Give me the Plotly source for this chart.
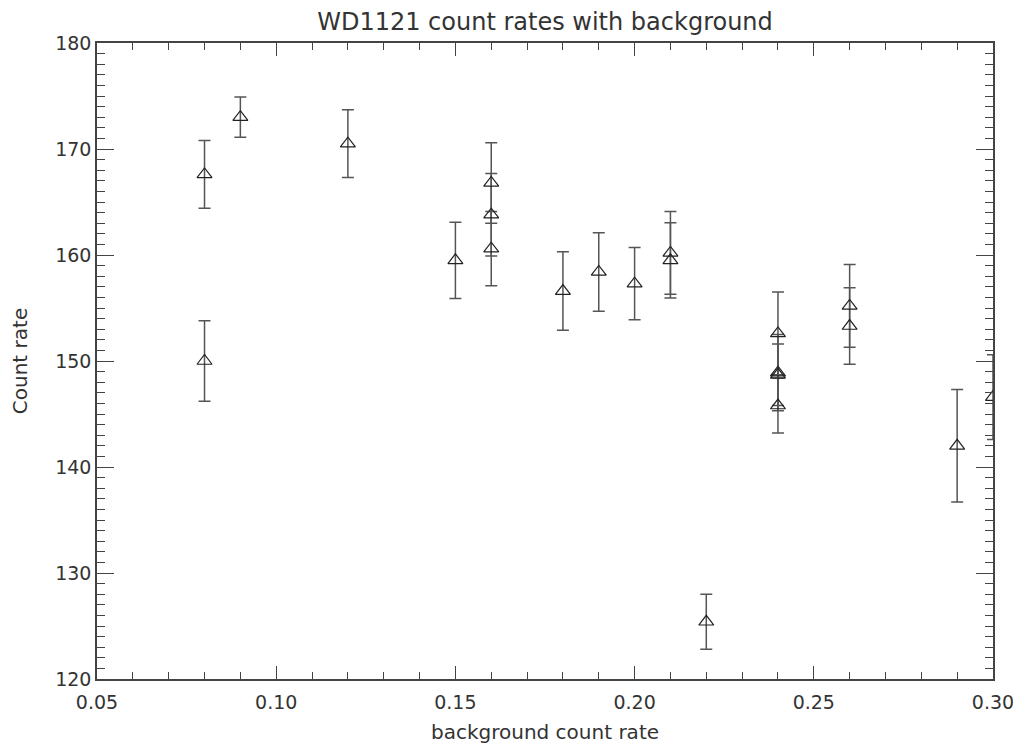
import plotly.graph_objects as go

# Data
bg_rate = [0.08, 0.08, 0.09, 0.12, 0.15, 0.16, 0.16, 0.16, 0.18, 0.19, 0.20,
           0.21, 0.21, 0.22, 0.24, 0.24, 0.24, 0.24, 0.26, 0.26, 0.29, 0.30]
count_rate = [167.6, 150.0, 173.0, 170.5, 159.5, 166.8, 163.8, 160.6, 156.6, 158.4, 157.3,
              160.2, 159.5, 125.4, 152.6, 148.9, 148.7, 145.8, 155.2, 153.3, 142.0, 146.6]
count_err = [3.2, 3.8, 1.9, 3.2, 3.6, 3.8, 3.9, 3.5, 3.7, 3.7, 3.4,
             3.9, 3.55, 2.6, 3.9, 3.6, 2.9, 2.6, 3.9, 3.6, 5.3, 4.0]

x_ticks = [0.05, 0.10, 0.15, 0.20, 0.25, 0.30]
x_ticklabels = ["0.05", "0.10", "0.15", "0.20", "0.25", "0.30"]
y_ticks = [120, 130, 140, 150, 160, 170, 180]

FONT = "DejaVu Sans"
TXT = "#333333"
AX = "#444444"

fig = go.Figure()
fig.add_trace(go.Scatter(
    x=bg_rate, y=count_rate,
    mode="markers",
    marker=dict(symbol="triangle-up-open", size=13, color="#222222",
                line=dict(width=1.2, color="#222222")),
    error_y=dict(type="data", array=count_err, visible=True,
                 color="#555555", thickness=1.5, width=6),
    showlegend=False,
))

axis_common = dict(
    showline=True, linecolor=AX, linewidth=1.5, mirror="allticks",
    ticks="inside", tickcolor=AX, tickwidth=1.2,
    showgrid=False, zeroline=False, automargin=False,
    tickfont=dict(family=FONT, size=19, color=TXT),
)

# page body has an 8px margin, so the figure is slightly smaller than the window
fig.update_layout(
    width=1013, height=741,
    paper_bgcolor="white", plot_bgcolor="white",
    margin=dict(l=89, r=28, t=35, b=70),
    title=dict(text="WD1121 count rates with background",
               x=0.5, xref="paper", xanchor="center",
               y=0.982, yanchor="middle", automargin=False,
               font=dict(family=FONT, size=24, color=TXT)),
    xaxis=dict(range=[0.05, 0.30], tickvals=x_ticks, ticktext=x_ticklabels,
               ticklen=13, ticklabelstandoff=5,
               minor=dict(dtick=0.01, tick0=0.05, ticklen=7, ticks="inside",
                          tickcolor=AX, tickwidth=1.2),
               title=dict(text="background count rate", standoff=13,
                          font=dict(family=FONT, size=20, color=TXT)),
               **axis_common),
    yaxis=dict(range=[120, 180], tickvals=y_ticks, ticklen=17,
               minor=dict(dtick=1, tick0=120, ticklen=8, ticks="inside",
                          tickcolor=AX, tickwidth=1.2),
               title=dict(text="Count rate", standoff=26,
                          font=dict(family=FONT, size=20, color=TXT)),
               **axis_common),
)

fig.write_html("out.html")
